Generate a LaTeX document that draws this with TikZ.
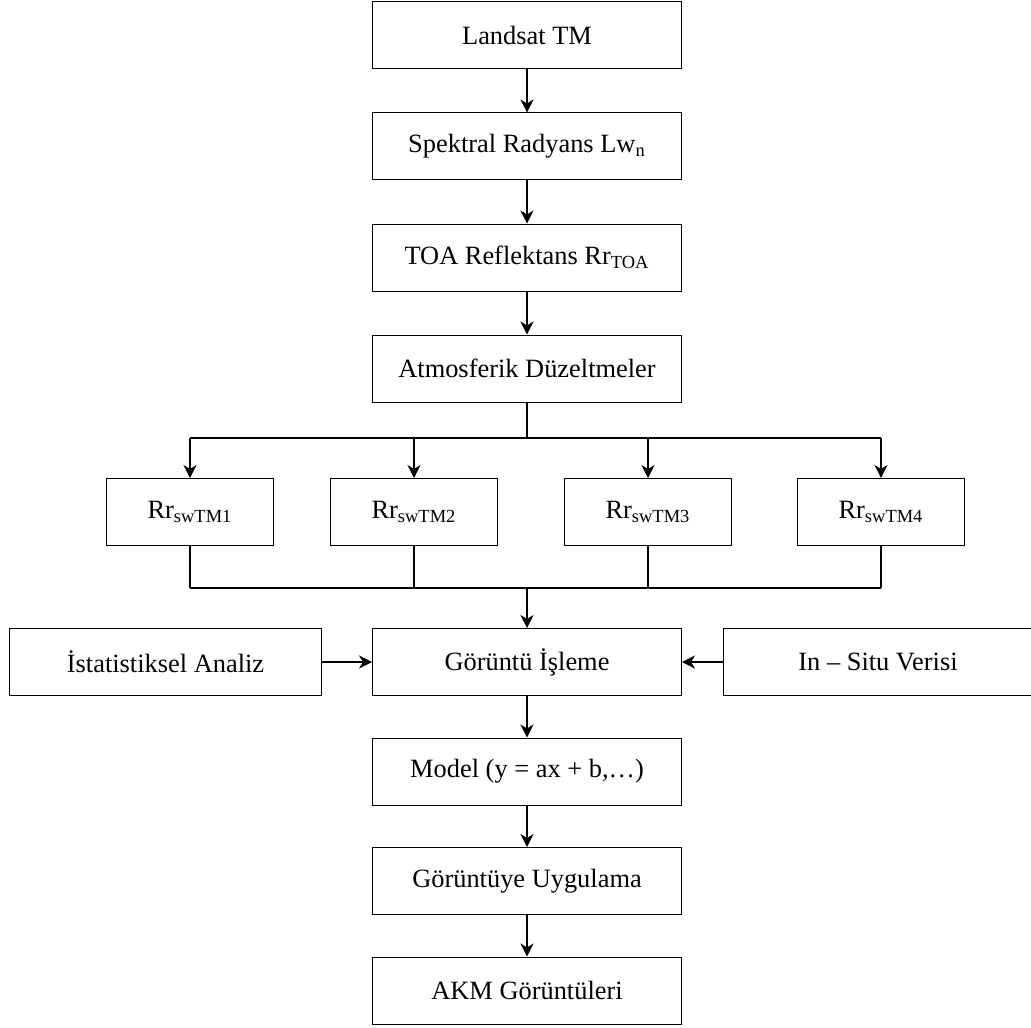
\documentclass[tikz,border=0pt]{standalone}
\usepackage{fontspec}
\setmainfont{Liberation Serif}
\usetikzlibrary{positioning,arrows.meta}

\begin{document}
\begin{tikzpicture}[x=0.5pt,y=-0.5pt,
box/.style={draw,rectangle,line width=0.5pt,minimum width=154.5pt,minimum height=33.5pt,inner sep=0pt,
    font=\fontsize{13.2}{16}\selectfont},
rbox/.style={box,minimum width=83.5pt},
arr/.style={-{Stealth[length=6.5pt,width=6.5pt,inset=2pt]},line width=0.6pt},
node distance=21.5pt]
\useasboundingbox (0,0) rectangle (1031,1027);

% main column
\node (landsat) [box] at (527,35.5) {Landsat TM};
\node (radyans) [box,below=of landsat] {Spektral Radyans Lw\textsubscript{n}};
\node (toa) [box,below=of radyans] {TOA Reflektans Rr\textsubscript{TOA}};
\node (atmos) [box,below=of toa] {Atmosferik Düzeltmeler};

% four bands
\node (rr1) [rbox] at (190,512) {Rr\textsubscript{swTM1}};
\node (rr2) [rbox] at (414,512) {Rr\textsubscript{swTM2}};
\node (rr3) [rbox] at (648,512) {Rr\textsubscript{swTM3}};
\node (rr4) [rbox] at (881,512) {Rr\textsubscript{swTM4}};
\coordinate (split) at (527,438);
\coordinate (join) at (527,588);

\node (isleme) [box] at (527,662) {Görüntü İşleme};
\node (ista) [box,minimum width=156pt,left=25pt of isleme] {İstatistiksel Analiz};
\node (insitu) [box,right=20.5pt of isleme] {In – Situ Verisi};
\node (model) [box,below=20.75pt of isleme] {Model (y = ax + b,…)};
\node (uygula) [box,below=20.75pt of model] {Görüntüye Uygulama};
\node (akm) [box,below=20.75pt of uygula] {AKM Görüntüleri};

\draw[arr] (landsat) -- (radyans);
\draw[arr] (radyans) -- (toa);
\draw[arr] (toa) -- (atmos);
\draw[line width=0.8pt] (atmos) -- (atmos |- split);
\draw[line width=0.6pt] (rr1 |- split) -- (rr4 |- split);
\foreach \r in {rr1,rr2,rr3,rr4} {
  \draw[arr] (\r |- split) -- (\r);
  \draw[line width=0.8pt] (\r) -- (\r |- join);
}
\draw[line width=0.6pt] (rr1 |- join) -- (rr4 |- join);
\draw[arr] (join) -- (isleme);
\draw[arr] (ista) -- (isleme);
\draw[arr] (insitu) -- (isleme);
\draw[arr] (isleme) -- (model);
\draw[arr] (model) -- (uygula);
\draw[arr] (uygula) -- (akm);
\end{tikzpicture}
\end{document}
